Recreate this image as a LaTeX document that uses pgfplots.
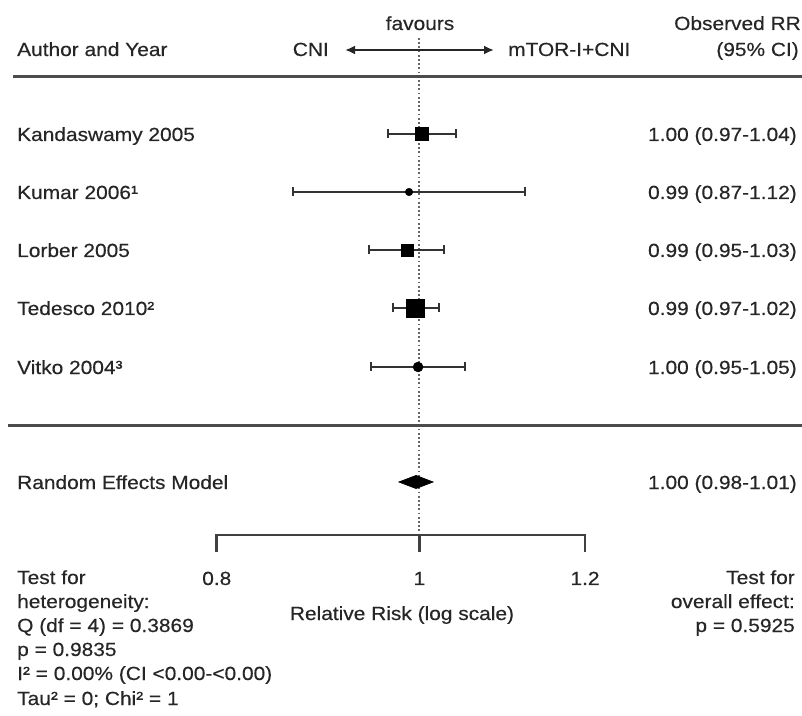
\documentclass[border=0pt]{standalone}
\usepackage{fontspec}
\setmainfont{Liberation Sans}[FakeStretch=1.1, FakeBold=0.4]
\usepackage{pgfplots}
\pgfplotsset{compat=1.18}
\usetikzlibrary{arrows.meta}

\begin{document}
\fontsize{19bp}{24bp}\selectfont
\begin{tikzpicture}
\path[use as bounding box] (0,0) rectangle (802bp,716bp);
\begin{axis}[at={(0,0)}, anchor=south west, width=802bp, height=716bp,
  scale only axis, xmode=log, xmin=0.6302, xmax=1.5238, ymin=0, ymax=716,
  hide axis, clip=false,
  ci/.style={black!80, line width=2.6bp, mark=|, mark size=4.5bp, mark options={solid, line width=2.4bp}}]
% reference line at RR = 1
\addplot[black!60, line width=2bp, dash pattern=on 1.8bp off 2.4bp] coordinates {(1,678) (1,181)};
% confidence intervals
\addplot[ci] coordinates {(0.966,582) (1.041,582)};
\addplot[ci] coordinates {(0.870,524) (1.123,524)};
\addplot[ci] coordinates {(0.946,466) (1.0275,466)};
\addplot[ci] coordinates {(0.9714,408) (1.0218,408)};
\addplot[ci] coordinates {(0.948,349) (1.0515,349)};
% point estimates
\addplot[only marks, black, mark=square*, mark size=6.5bp, mark options={rounded corners=2bp}] coordinates {(1.003,582)};
\addplot[only marks, black, mark=*, mark size=3.8bp] coordinates {(0.9886,524)};
\addplot[only marks, black, mark=square*, mark size=6bp, mark options={rounded corners=2bp}] coordinates {(0.9864,466)};
\addplot[only marks, black, mark=square*, mark size=9bp, mark options={rounded corners=1.5bp}] coordinates {(0.9952,408)};
\addplot[only marks, black, mark=*, mark size=5bp] coordinates {(0.9985,349)};
% pooled estimate (diamond)
\addplot[black, fill=black, line width=0.8bp] coordinates {(0.9778,234) (0.9963,240.5) (1.015,234) (0.9963,227.5)} -- cycle;
% x axis
\addplot[black!75, line width=2.6bp] coordinates {(0.8,164) (0.8,181) (1.2,181) (1.2,164)};
\addplot[black!75, line width=2.6bp] coordinates {(1,181) (1,164)};
\node[anchor=base, inner sep=0pt, text=black!85] at (axis cs:0.8,131) {0.8};
\node[anchor=base, inner sep=0pt, text=black!85] at (axis cs:1,131) {1};
\node[anchor=base, inner sep=0pt, text=black!85] at (axis cs:1.2,131) {1.2};
\end{axis}
\begin{scope}[x=1bp, y=1bp, every node/.append style={inner sep=0pt, text=black!85}]
% rules
\draw[black!70, line width=3bp] (13,639) -- (802,639);
\draw[black!70, line width=3bp] (8,290) -- (802,290);
% favours arrow
\draw[black!85, line width=2.4bp, {Latex[length=10bp,width=9bp]}-{Latex[length=10bp,width=9bp]}] (345,666) -- (494,666);
% header
\node[anchor=base] at (420,686) {favours};
\node[anchor=base east] at (801,686) {Observed RR};
\node[anchor=base west] at (17,660) {Author and Year};
\node[anchor=base east] at (329,660) {CNI};
\node[anchor=base west] at (508,660) {mTOR-I+CNI};
\node[anchor=base east] at (799,660) {(95\% CI)};
% study labels
\node[anchor=base west] at (17,575) {Kandaswamy 2005};
\node[anchor=base west] at (17,517) {Kumar 2006¹};
\node[anchor=base west] at (17,459) {Lorber 2005};
\node[anchor=base west] at (17,401) {Tedesco 2010²};
\node[anchor=base west] at (17,342) {Vitko 2004³};
\node[anchor=base west] at (17,227) {Random Effects Model};
% estimates
\node[anchor=base east] at (797,575) {1.00 (0.97-1.04)};
\node[anchor=base east] at (797,517) {0.99 (0.87-1.12)};
\node[anchor=base east] at (797,459) {0.99 (0.95-1.03)};
\node[anchor=base east] at (797,401) {0.99 (0.97-1.02)};
\node[anchor=base east] at (797,342) {1.00 (0.95-1.05)};
\node[anchor=base east] at (797,227) {1.00 (0.98-1.01)};
% axis label
\node[anchor=base] at (402,96) {Relative Risk (log scale)};
% heterogeneity
\node[anchor=base west] at (17,132) {Test for};
\node[anchor=base west] at (17,108) {heterogeneity:};
\node[anchor=base west] at (17,84) {Q (df = 4) = 0.3869};
\node[anchor=base west] at (17,60) {p = 0.9835};
\node[anchor=base west] at (17,36) {I² = 0.00\% (CI <0.00-<0.00)};
\node[anchor=base west] at (17,11) {Tau² = 0; Chi² = 1};
% overall effect
\node[anchor=base east] at (795,132) {Test for};
\node[anchor=base east] at (795,108) {overall effect:};
\node[anchor=base east] at (795,84) {p = 0.5925};
\end{scope}
\end{tikzpicture}
\end{document}
